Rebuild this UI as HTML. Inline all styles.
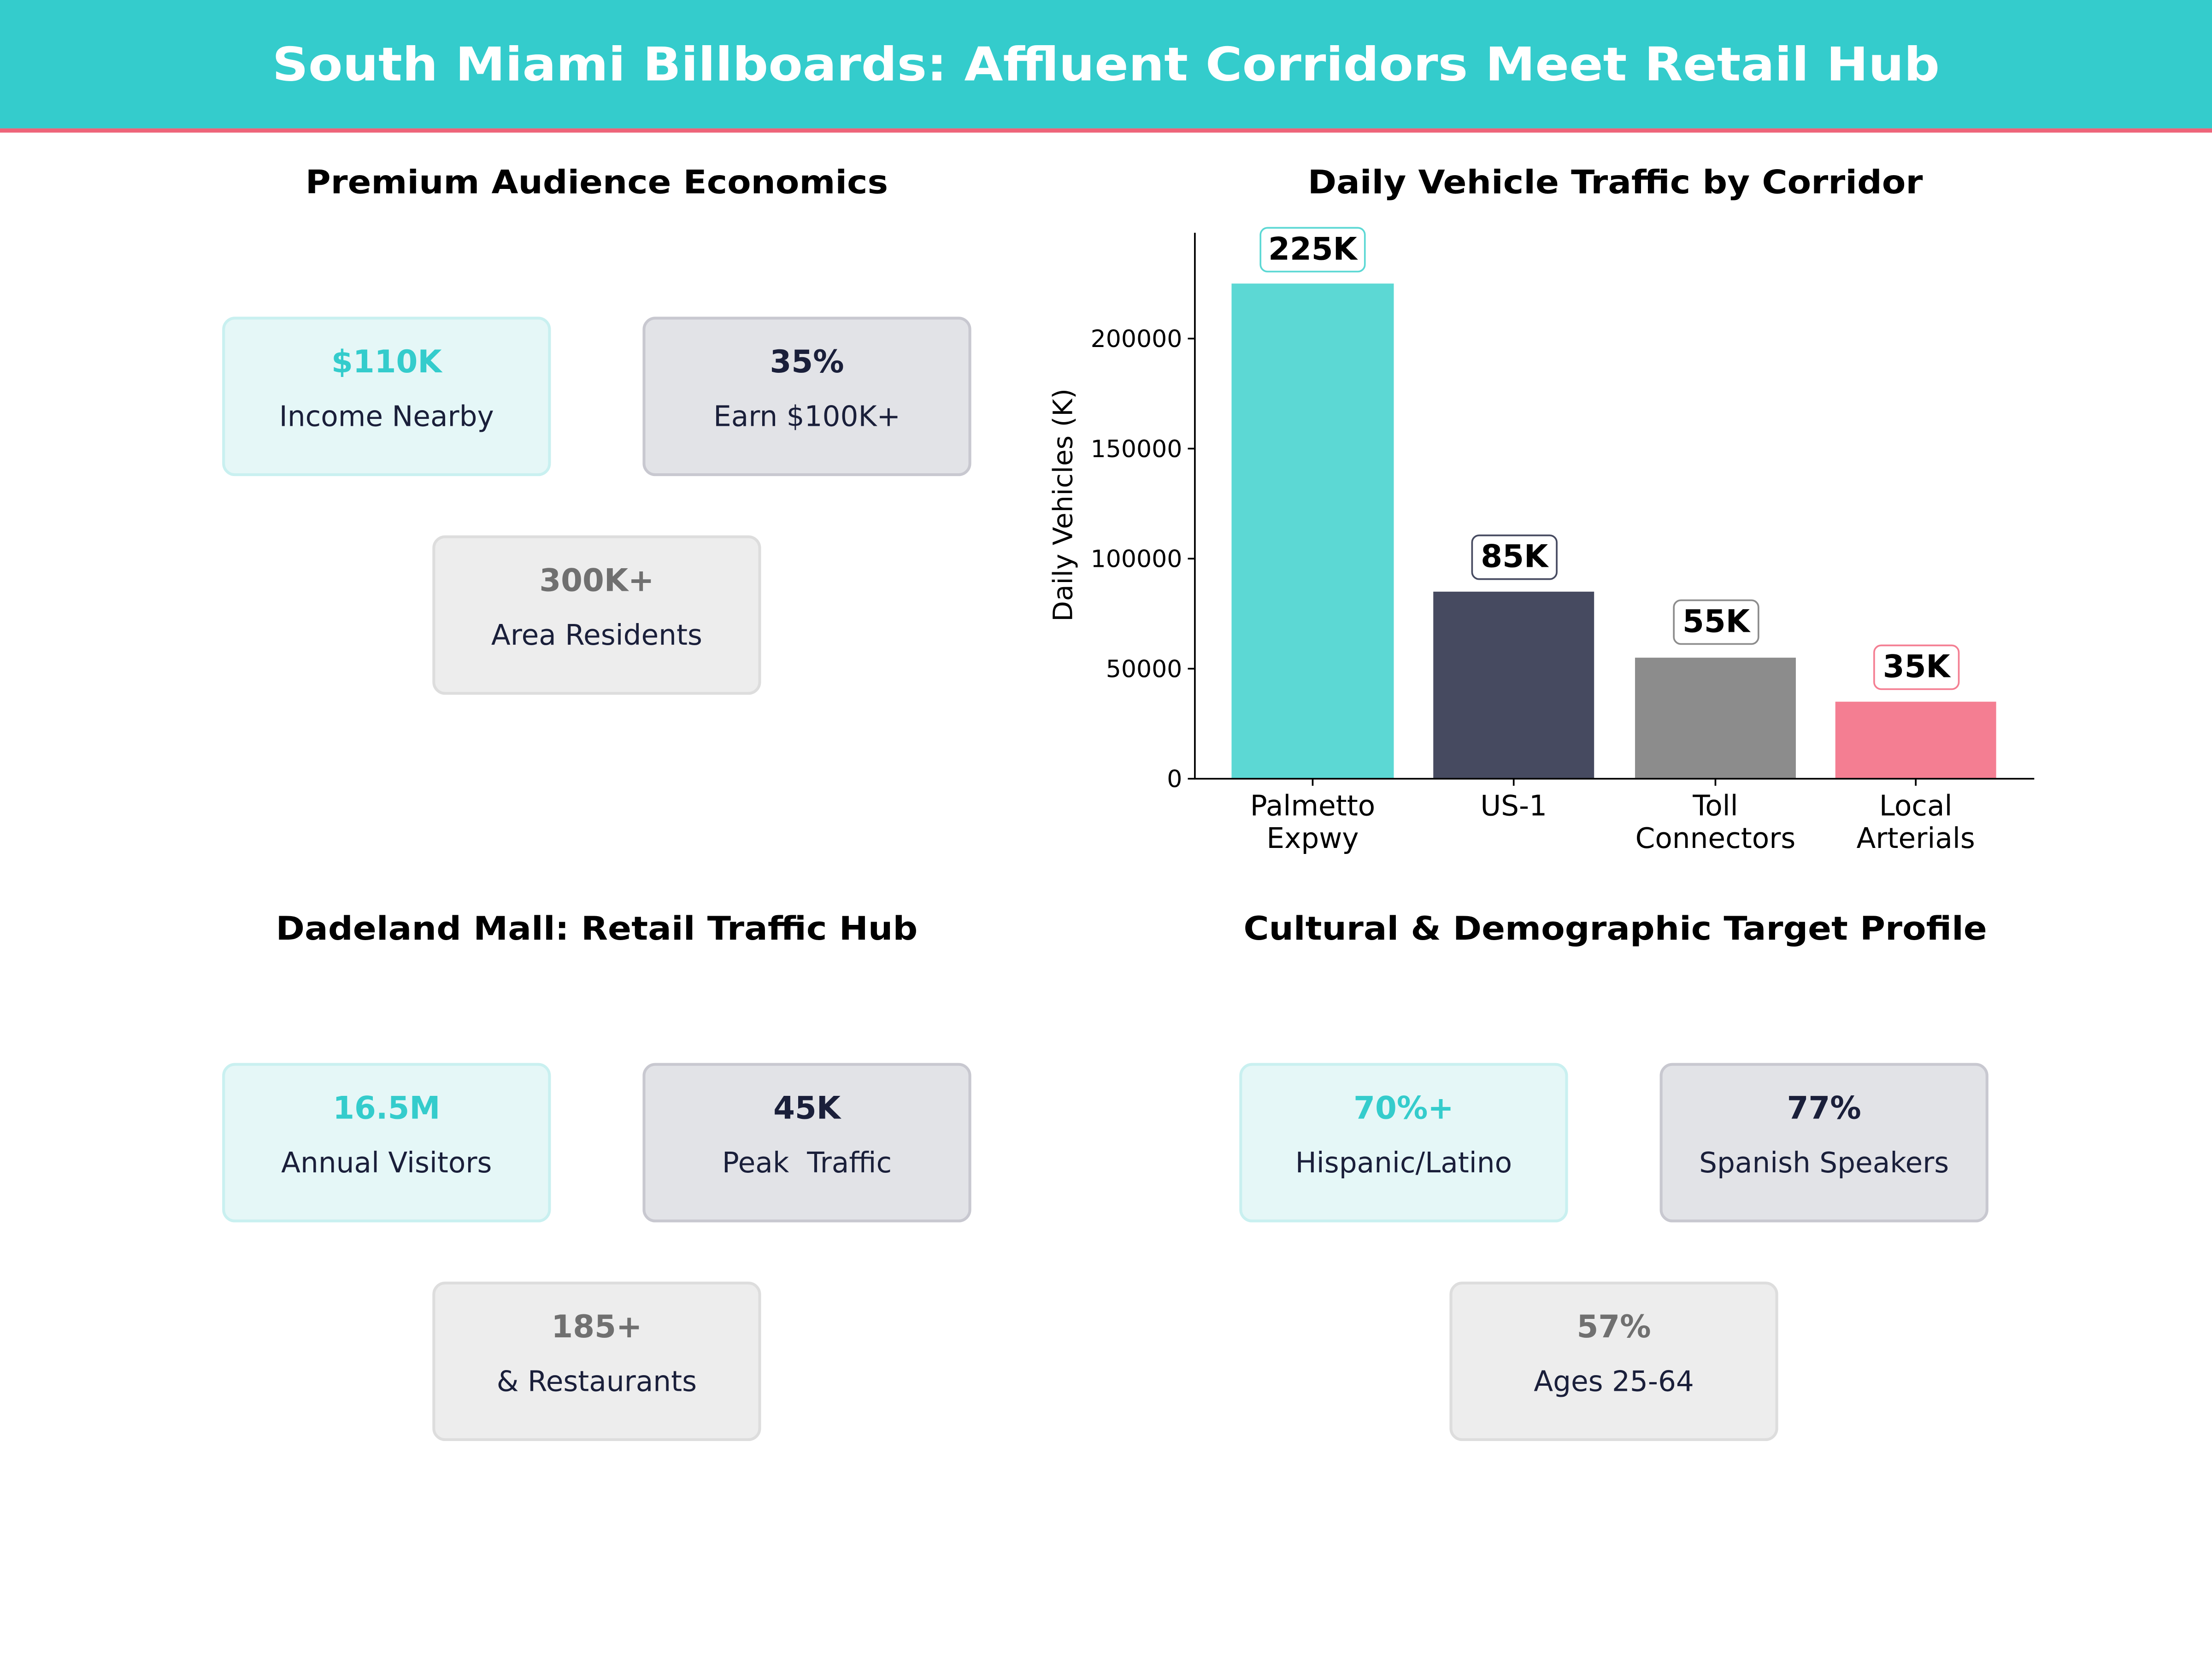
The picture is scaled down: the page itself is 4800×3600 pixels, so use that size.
<!DOCTYPE html>
<html><head><meta charset="utf-8"><style>
html,body{margin:0;padding:0;background:#fff;}
svg{display:block;}
text{font-family:"DejaVu Sans","Liberation Sans",sans-serif;}
</style></head><body>
<svg width="4800" height="3600" viewBox="0 0 1568 1176" xmlns="http://www.w3.org/2000/svg">
<rect x="0" y="0" width="1568" height="1176" fill="#fff"/>
<rect x="0" y="0" width="1568" height="91" fill="#34CCCC"/>
<rect x="0" y="91" width="1568" height="3" fill="#EE6479"/>
<text x="784" y="57" font-size="33" font-weight="bold" fill="#fff" text-anchor="middle" textLength="1182" lengthAdjust="spacingAndGlyphs">South Miami Billboards: Affluent Corridors Meet Retail Hub</text>

<g font-weight="bold" font-size="23" fill="#000" text-anchor="middle">
<text x="423" y="137" textLength="413" lengthAdjust="spacingAndGlyphs">Premium Audience Economics</text>
<text x="1145" y="137" textLength="436" lengthAdjust="spacingAndGlyphs">Daily Vehicle Traffic by Corridor</text>
<text x="423" y="666" textLength="455" lengthAdjust="spacingAndGlyphs">Dadeland Mall: Retail Traffic Hub</text>
<text x="1145" y="666" textLength="527" lengthAdjust="spacingAndGlyphs">Cultural &amp; Demographic Target Profile</text>
</g>

<rect x="158.5" y="225.5" width="231" height="111" rx="8" fill="#E5F7F7" stroke="#C9F0F0" stroke-width="2"/>
<rect x="456.5" y="225.5" width="231" height="111" rx="8" fill="#E2E3E7" stroke="#C8C8D0" stroke-width="2"/>
<rect x="307.5" y="380.5" width="231" height="111" rx="8" fill="#EDEDED" stroke="#DDDDDD" stroke-width="2"/>
<g font-size="22" font-weight="bold" text-anchor="middle">
<text x="274" y="264" fill="#34CCCC">$110K</text>
<text x="572" y="264" fill="#1A1F3A">35%</text>
<text x="423" y="419" fill="#707070">300K+</text>
</g>
<g font-size="20" text-anchor="middle" fill="#1A1F3A">
<text x="274" y="302">Income Nearby</text>
<text x="572" y="302">Earn $100K+</text>
<text x="423" y="457">Area Residents</text>
</g>

<rect x="158.5" y="754.5" width="231" height="111" rx="8" fill="#E5F7F7" stroke="#C9F0F0" stroke-width="2"/>
<rect x="456.5" y="754.5" width="231" height="111" rx="8" fill="#E2E3E7" stroke="#C8C8D0" stroke-width="2"/>
<rect x="307.5" y="909.5" width="231" height="111" rx="8" fill="#EDEDED" stroke="#DDDDDD" stroke-width="2"/>
<g font-size="22" font-weight="bold" text-anchor="middle">
<text x="274" y="793" fill="#34CCCC">16.5M</text>
<text x="572" y="793" fill="#1A1F3A">45K</text>
<text x="423" y="948" fill="#707070">185+</text>
</g>
<g font-size="20" text-anchor="middle" fill="#1A1F3A">
<text x="274" y="831">Annual Visitors</text>
<text x="572" y="831" xml:space="preserve">Peak  Traffic</text>
<text x="423" y="986">&amp; Restaurants</text>
</g>

<rect x="879.5" y="754.5" width="231" height="111" rx="8" fill="#E5F7F7" stroke="#C9F0F0" stroke-width="2"/>
<rect x="1177.5" y="754.5" width="231" height="111" rx="8" fill="#E2E3E7" stroke="#C8C8D0" stroke-width="2"/>
<rect x="1028.5" y="909.5" width="231" height="111" rx="8" fill="#EDEDED" stroke="#DDDDDD" stroke-width="2"/>
<g font-size="22" font-weight="bold" text-anchor="middle">
<text x="995" y="793" fill="#34CCCC">70%+</text>
<text x="1293" y="793" fill="#1A1F3A">77%</text>
<text x="1144" y="948" fill="#707070">57%</text>
</g>
<g font-size="20" text-anchor="middle" fill="#1A1F3A">
<text x="995" y="831">Hispanic/Latino</text>
<text x="1293" y="831">Spanish Speakers</text>
<text x="1144" y="986">Ages 25-64</text>
</g>

<!-- bar chart -->
<rect x="873" y="201" width="115" height="351" fill="#5CD8D4"/>
<rect x="1016" y="419.4" width="114" height="132.6" fill="#464A60"/>
<rect x="1159" y="466.2" width="114" height="85.8" fill="#8C8C8C"/>
<rect x="1301" y="497.4" width="114" height="54.6" fill="#F47E92"/>
<line x1="847" y1="165" x2="847" y2="552.5" stroke="#000" stroke-width="1.2"/>
<line x1="846.5" y1="552" x2="1442" y2="552" stroke="#000" stroke-width="1.2"/>
<g stroke="#000" stroke-width="1.2">
<line x1="842" y1="552" x2="847" y2="552"/>
<line x1="842" y1="474" x2="847" y2="474"/>
<line x1="842" y1="396" x2="847" y2="396"/>
<line x1="842" y1="318" x2="847" y2="318"/>
<line x1="842" y1="240" x2="847" y2="240"/>
<line x1="930.5" y1="552" x2="930.5" y2="557"/>
<line x1="1073" y1="552" x2="1073" y2="557"/>
<line x1="1216" y1="552" x2="1216" y2="557"/>
<line x1="1358" y1="552" x2="1358" y2="557"/>
</g>
<g font-size="17" text-anchor="end" fill="#000">
<text x="838" y="558">0</text>
<text x="838" y="480">50000</text>
<text x="838" y="402">100000</text>
<text x="838" y="324">150000</text>
<text x="838" y="246">200000</text>
</g>
<text transform="translate(760,358) rotate(-90)" font-size="19" text-anchor="middle" fill="#000">Daily Vehicles (K)</text>
<g font-size="20" text-anchor="middle" fill="#000">
<text x="930.5" y="578">Palmetto</text><text x="930.5" y="601">Expwy</text>
<text x="1073" y="578">US-1</text>
<text x="1216" y="578">Toll</text><text x="1216" y="601">Connectors</text>
<text x="1358" y="578">Local</text><text x="1358" y="601">Arterials</text>
</g>
<rect x="893.5" y="161.5" width="74" height="31" rx="5" fill="#fff" stroke="#5CD8D4" stroke-width="1.2"/>
<rect x="1043.5" y="379.5" width="60" height="31" rx="5" fill="#fff" stroke="#464A60" stroke-width="1.2"/>
<rect x="1186.5" y="425.5" width="60" height="31" rx="5" fill="#fff" stroke="#8C8C8C" stroke-width="1.2"/>
<rect x="1328.5" y="457.5" width="60" height="31" rx="5" fill="#fff" stroke="#F47E92" stroke-width="1.2"/>
<g font-size="22" font-weight="bold" text-anchor="middle" fill="#000">
<text x="930.5" y="184">225K</text>
<text x="1073.5" y="402">85K</text>
<text x="1216.5" y="448">55K</text>
<text x="1358.5" y="480">35K</text>
</g>
</svg>
</body></html>
